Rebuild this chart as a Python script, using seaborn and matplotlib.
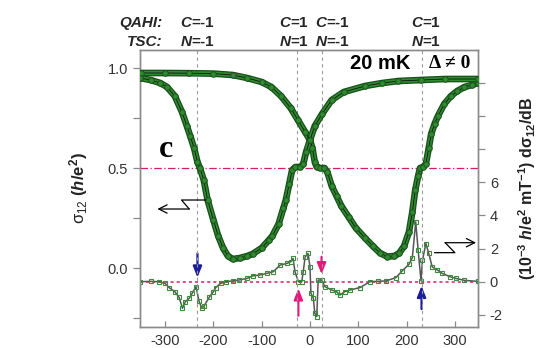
import matplotlib
matplotlib.use("Agg")
import matplotlib.pyplot as plt
import matplotlib.transforms as mtransforms
from matplotlib.ticker import FixedLocator, MultipleLocator, FormatStrFormatter
import pandas as pd
import seaborn as sns

# Hall conductance sigma_12 (h/e^2) versus field B (mT), two sweep directions
field_up = [-350, -300, -250, -200, -160, -130, -100, -80, -60, -40, -25, -10, 0, 5, 10,
            14, 20, 30, 36, 45, 55, 65, 80, 95, 114, 130, 145, 160, 175, 185, 195, 205,
            212, 218, 224, 228, 234, 240, 246, 251, 258, 265, 278, 292, 305, 320, 335, 348]
sigma_up = [0.975, 0.975, 0.974, 0.972, 0.965, 0.95, 0.93, 0.905, 0.86, 0.80, 0.74, 0.68,
            0.64, 0.60, 0.53, 0.505, 0.50, 0.50, 0.48, 0.41, 0.36, 0.31, 0.255, 0.20, 0.15,
            0.11, 0.075, 0.057, 0.06, 0.075, 0.11, 0.18, 0.28, 0.39, 0.46, 0.50, 0.505, 0.52,
            0.60, 0.67, 0.72, 0.76, 0.82, 0.86, 0.885, 0.905, 0.915, 0.925]

field_down = [-352, -330, -310, -296, -280, -265, -255, -248, -240, -233, -228, -220, -212,
              -200, -190, -180, -170, -160, -145, -130, -119, -100, -85, -78, -65, -55, -50,
              -43, -37, -30, -20, -14, -8, 0, 10, 25, 45, 70, 114, 150, 183, 230, 280, 348]
sigma_down = [0.95, 0.94, 0.925, 0.905, 0.86, 0.78, 0.71, 0.66, 0.60, 0.53, 0.50, 0.44, 0.34,
              0.24, 0.16, 0.10, 0.06, 0.045, 0.05, 0.06, 0.07, 0.10, 0.14, 0.16, 0.22, 0.30,
              0.34, 0.42, 0.49, 0.505, 0.505, 0.52, 0.58, 0.64, 0.71, 0.77, 0.84, 0.88, 0.91,
              0.925, 0.935, 0.94, 0.945, 0.945]

# Derivative d(sigma_12)/dB in 10^-3 h/e^2 per mT
field_deriv = [-352, -330, -313, -300, -292, -280, -271, -264, -258, -250, -244, -236, -230,
               -224, -219, -209, -200, -195, -185, -174, -160, -147, -130, -119, -104, -90,
               -76, -62, -48, -40, -35, -31, -24, -17, -14, -10, -4, 0, 2, 7, 10, 14, 17, 24,
               31, 45, 55, 62, 72, 83, 104, 124, 140, 158, 178, 191, 205, 212, 219, 224, 230,
               233, 240, 246, 253, 264, 274, 290, 302, 320, 348]
deriv = [0, 0.02, 0, -0.1, -0.35, -0.6, -0.95, -1.6, -1.2, -1.0, -0.7, -0.3, -1.15, -1.6,
         -1.45, -0.95, -0.6, -0.35, -0.1, 0, 0.05, 0.1, 0.2, 0.35, 0.4, 0.5, 0.6, 1.0, 1.1,
         1.2, 1.4, 0.6, 0.0, 0.0, 0.6, 1.5, 1.7, 0.9, -0.7, -1.0, -1.9, -2.1, 0.1, 0.1, -0.3,
         -0.5, -0.6, -0.8, -0.6, -0.5, -0.35, 0, 0.02, 0.05, 0.25, 0.65, 1.05, 1.45, 3.6, 1.9,
         0.05, 1.3, 2.3, 1.7, 0.9, 0.7, 0.5, 0.3, 0.2, 0.08, 0.02]

# Phase-transition fields and topological numbers
transition_fields = [-233, -26, 24, 231]
chern_numbers = ["-1", "1", "-1", "1"]
tsc_numbers = ["-1", "1", "-1", "1"]

x_ticks = [-300, -200, -100, 0, 100, 200, 300]
left_ticks = [0.0, 0.5, 1.0]
right_ticks = [-2, 0, 2, 4, 6, 8, 10, 12]
right_tick_labels = ["-2", "0", "2", "4", "6", "", "", ""]

sns.set_theme(style="white")
plt.rcParams.update({
    "font.family": ["Liberation Sans", "DejaVu Sans"],
    "axes.unicode_minus": False,
    "mathtext.fontset": "custom",
    "mathtext.rm": "Liberation Sans",
    "mathtext.it": "Liberation Sans:italic",
    "mathtext.bf": "Liberation Sans:bold",
    "mathtext.bfit": "Liberation Sans:bold:italic",
    "mathtext.sf": "Liberation Sans",
})

GREEN_OUTER = "#17501a"
GREEN_INNER = "#2f8a30"
GREEN_FACE = "#2f8a30"
GREEN_EDGE = "#1a521c"
SPINE = "#8a8a8a"
TICKTXT = "#333333"
MAGENTA = "#d81b6a"
BLUE = "#1c1c9c"
PINK = "#e8177d"

fig = plt.figure(figsize=(5.6, 3.48), dpi=100)
ax = fig.add_axes([0.25, 0.0603, 0.6036, 0.796])
ax2 = ax.twinx()
ax.set_zorder(2)
ax2.set_zorder(1)
ax.patch.set_visible(False)

up = pd.DataFrame({"B": field_up, "sigma": sigma_up})
down = pd.DataFrame({"B": field_down, "sigma": sigma_down})
der = pd.DataFrame({"B": field_deriv, "d": deriv})

# derivative trace on the right axis
sns.lineplot(data=der, x="B", y="d", ax=ax2, color="#555555", linewidth=1.1,
             marker="s", markersize=3.2, markerfacecolor="none",
             markeredgecolor="#3d8a3d", markeredgewidth=0.8, zorder=3)

# sigma_12 sweeps: outlined green band, markers, thin black centre line
for df in (up, down):
    sns.lineplot(data=df, x="B", y="sigma", ax=ax, color=GREEN_OUTER, linewidth=4.8,
                 zorder=3, solid_capstyle="round")
    sns.lineplot(data=df, x="B", y="sigma", ax=ax, color=GREEN_INNER, linewidth=3.0,
                 zorder=3, solid_capstyle="round")
    sns.lineplot(data=df, x="B", y="sigma", ax=ax, color="#111111", linewidth=0.6,
                 marker="o", markersize=4.0, markerfacecolor=GREEN_FACE,
                 markeredgecolor=GREEN_EDGE, markeredgewidth=0.7, zorder=4)

ax.set_xlim(-352, 348)
ax.set_ylim(-0.295, 1.09)
ax2.set_ylim(-2.73, 13.96)

# reference lines
ax.axhline(0.5, color=MAGENTA, linewidth=0.9, linestyle=(0, (6, 2, 1, 2)), zorder=1)
ax2.axhline(0.0, color=MAGENTA, linewidth=1.1, linestyle=(0, (2, 2)), zorder=1)
for xb in transition_fields:
    ax.axvline(xb, color="#9a9a9a", linewidth=0.8, linestyle=(0, (3, 3)), zorder=1)

# arrows marking transitions on the derivative trace
arrow_specs = [(-233, 1.7, 0.25, BLUE), (24, 1.5, 0.45, PINK),
               (-24, -2.05, -0.4, PINK), (231, -1.65, -0.25, BLUE)]
for xa, tail, tip, col in arrow_specs:
    ax2.annotate("", xy=(xa, tip), xytext=(xa, tail),
                 arrowprops=dict(arrowstyle="-|>,head_length=0.55,head_width=0.22",
                                 color=col, lw=1.6, shrinkA=0, shrinkB=0), zorder=6)

# zig-zag pointers to the relevant axis
ax.plot([-216, -266, -250], [0.34, 0.34, 0.295], color="black", linewidth=0.9, zorder=5)
ax.annotate("", xy=(-316, 0.295), xytext=(-250, 0.295),
            arrowprops=dict(arrowstyle="->,head_length=0.5,head_width=0.25",
                            color="black", lw=0.9, shrinkA=0, shrinkB=0), zorder=5)
ax2.plot([258, 300, 280], [1.75, 1.75, 2.35], color="black", linewidth=0.9, zorder=5)
ax2.annotate("", xy=(344, 2.35), xytext=(280, 2.35),
             arrowprops=dict(arrowstyle="->,head_length=0.5,head_width=0.25",
                             color="black", lw=0.9, shrinkA=0, shrinkB=0), zorder=5)

# axes styling
for a in (ax, ax2):
    for s in a.spines.values():
        s.set_color(SPINE)
        s.set_linewidth(1.0)
        s.set_visible(True)

ax.set_xticks(x_ticks)
ax.tick_params(axis="x", direction="in", length=4, width=0.9, color=SPINE,
               labelsize=10.5, labelcolor=TICKTXT, pad=5, bottom=True)
ax.yaxis.set_major_locator(FixedLocator(left_ticks))
ax.yaxis.set_minor_locator(MultipleLocator(0.25))
ax.yaxis.set_major_formatter(FormatStrFormatter("%.1f"))
ax.tick_params(axis="y", which="both", direction="out", length=5, width=0.9,
               color=SPINE, labelsize=10.5, labelcolor=TICKTXT, left=True)
ax2.set_yticks(right_ticks)
ax2.set_yticklabels(right_tick_labels)
ax2.tick_params(axis="y", direction="out", length=5, width=0.9, color=SPINE,
                labelsize=10.5, labelcolor=TICKTXT, right=True)
ax.set_xlabel("")

ax.set_ylabel(r"$\mathrm{\sigma}_{\mathit{12}}\ \mathbf{(}\mathbfit{h}\mathbf{/e^{2})}$",
              fontsize=12, color="#222222")
ax.yaxis.set_label_coords(-0.148, 0.5)
ax2.set_ylabel(r"$\mathbf{(10^{-3}}\ \mathbfit{h}\mathbf{/e^{2}\ mT^{-1})\ d\sigma_{12}/dB}$",
               fontsize=11.5, color="#222222", rotation=90)
ax2.yaxis.set_label_coords(1.112, 0.5)

# annotations inside the axes
ax.text(145, 1.025, "20 mK", fontsize=14.5, fontweight="bold", ha="center", va="center",
        color="black", zorder=6)
ax.text(290, 1.025, "\u0394 \u2260 0", fontsize=14, fontweight="bold", ha="center",
        va="center", family=["Liberation Serif", "DejaVu Serif"], color="black", zorder=6)
ax.text(-299, 0.553, "c", fontsize=23, fontweight="bold", ha="center", va="baseline",
        family=["Liberation Serif", "DejaVu Serif"], color="black", zorder=6)

# header with topological numbers above each transition
hdr = mtransforms.blended_transform_factory(ax.transData, fig.transFigure)
fig.text(0.291, 0.934, "QAHI:", fontsize=11, fontweight="bold", fontstyle="italic",
         ha="right", va="center")
fig.text(0.291, 0.879, "TSC:", fontsize=11, fontweight="bold", fontstyle="italic",
         ha="right", va="center")
label_pos = [(-233, "center"), (-2, "right"), (10, "left"), (240, "center")]
for (xp, ha), c, n in zip(label_pos, chern_numbers, tsc_numbers):
    ax.text(xp, 0.934, r"$\mathbfit{C}$=" + c, transform=hdr, fontsize=11,
            fontweight="bold", ha=ha, va="center")
    ax.text(xp, 0.879, r"$\mathbfit{N}$=" + n, transform=hdr, fontsize=11,
            fontweight="bold", ha=ha, va="center")

fig.savefig("out.png", dpi=100)
